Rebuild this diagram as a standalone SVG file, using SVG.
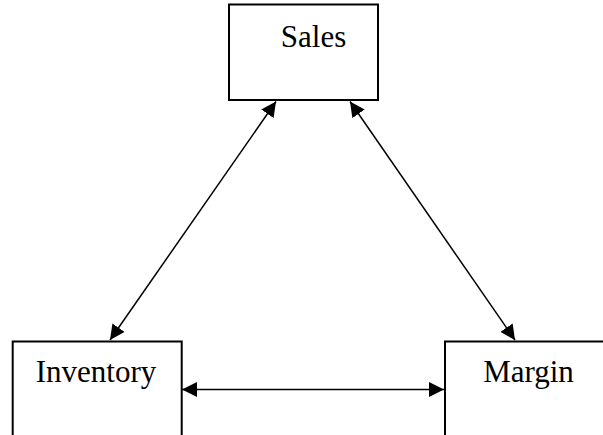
<svg xmlns="http://www.w3.org/2000/svg" width="603" height="435" viewBox="0 0 603 435">
<style>
.box{fill:#fff;stroke:#000;stroke-width:2}
.lbl{font-family:"Liberation Serif","Times New Roman",serif;font-size:31px;fill:#000;text-anchor:middle}
.conn{stroke:#000;stroke-width:1.5;fill:none;marker-start:url(#ah);marker-end:url(#ah)}
</style>
<defs>
<marker id="ah" markerUnits="userSpaceOnUse" viewBox="0 0 15 15" refX="15" refY="7.5" markerWidth="15" markerHeight="15" orient="auto-start-reverse">
<path d="M0,0 L15,7.5 L0,15 Z" fill="#000"/>
</marker>
</defs>
<rect width="603" height="435" fill="#fff"/>
<g id="sales">
<rect class="box" x="229" y="4.5" width="149" height="95.5"/>
<text class="lbl" x="313.5" y="47">Sales</text>
</g>
<g id="inventory">
<rect class="box" x="12.7" y="341.5" width="169" height="110"/>
<text class="lbl" x="96" y="382">Inventory</text>
</g>
<g id="margin">
<rect class="box" x="445" y="341.5" width="180" height="110"/>
<text class="lbl" x="528.5" y="382">Margin</text>
</g>
<g id="connectors">
<line class="conn" x1="276" y1="101.5" x2="110" y2="340"/>
<line class="conn" x1="350" y1="101.5" x2="515" y2="340"/>
<line class="conn" x1="182" y1="389.5" x2="444" y2="389.5"/>
</g>
</svg>
